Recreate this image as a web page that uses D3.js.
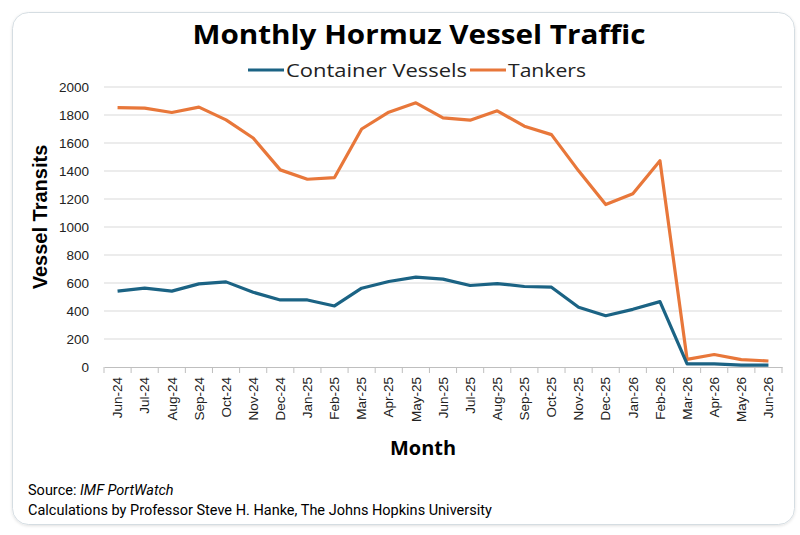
<!DOCTYPE html>
<html>
<head>
<meta charset="utf-8">
<script src="https://cdn.jsdelivr.net/npm/d3@7"></script>
<style>
  body { margin: 0; background: #fff; }
  svg { display: block; }
</style>
</head>
<body>
<div id="chart"></div>
<script>
'use strict'

// month labels on the x axis
var months = ["Jun-24","Jul-24","Aug-24","Sep-24","Oct-24","Nov-24","Dec-24",
	"Jan-25","Feb-25","Mar-25","Apr-25","May-25","Jun-25","Jul-25","Aug-25",
	"Sep-25","Oct-25","Nov-25","Dec-25","Jan-26","Feb-26","Mar-26","Apr-26",
	"May-26","Jun-26"]

var containerVessels = [542,563,542,594,608,534,479,479,436,563,611,642,628,
	582,596,575,570,427,366,412,467,22,22,14,14]

var tankers = [1853,1849,1818,1856,1765,1636,1408,1341,1353,1700,1820,1887,1780,
	1763,1830,1720,1660,1401,1160,1238,1473,55,89,53,43]

var yTicks = [0,200,400,600,800,1000,1200,1400,1600,1800,2000]

var seriesNames = ["Container Vessels", "Tankers"]
var seriesColors = ["#1b6384", "#e8773a"]

var W = 800, H = 535
var margins = {top : 87, bottom : 168, left : 104, right : 18}
var width = W - margins.left - margins.right
var height = H - margins.top - margins.bottom

var svg = d3.select("#chart").append("svg")
	.attr("width", W)
	.attr("height", H)

// card with rounded corners
var defs = svg.append("defs")
var f = defs.append("filter").attr("id", "shadow").attr("x", "-5%").attr("y", "-5%").attr("width", "110%").attr("height", "110%")
f.append("feDropShadow").attr("dx", 0).attr("dy", 1).attr("stdDeviation", 1.5).attr("flood-color", "#000").attr("flood-opacity", 0.12)

svg.append("rect")
	.attr("x", 12.5).attr("y", 12.5)
	.attr("width", 782).attr("height", 512)
	.attr("rx", 16)
	.attr("fill", "#fff")
	.attr("stroke", "#d5dde2")
	.attr("filter", "url(#shadow)")

var g = svg.append("g").attr("transform", "translate(" + margins.left + "," + margins.top + ")")

var x = d3.scaleBand()
	.domain(months)
	.range([0, width])

var y = d3.scaleLinear()
	.domain([0, 2000])
	.range([height, 0])

// gridlines
g.append("g")
	.selectAll("line")
	.data(yTicks.slice(1))
	.enter().append("line")
	.attr("x1", 0)
	.attr("x2", width)
	.attr("y1", function(d){ return y(d) })
	.attr("y2", function(d){ return y(d) })
	.attr("stroke", "#d9d9d9")
	.attr("stroke-width", 1)

// y axis labels
var ya = g.append("g")
	.call(d3.axisLeft(y).tickValues(yTicks).tickFormat(d3.format("d")).tickSize(0).tickPadding(15))
ya.select(".domain").remove()
ya.selectAll("text")
	.attr("font-family", "Liberation Sans, Arial, sans-serif")
	.attr("font-size", "13.5px")
	.attr("fill", "#222")

// x axis
var xa = g.append("g")
	.attr("transform", "translate(0," + height + ")")
	.call(d3.axisBottom(x).tickSize(0).tickPadding(0))
xa.select(".domain").attr("stroke", "#bfbfbf")
xa.selectAll(".tick text")
	.attr("font-family", "Liberation Sans, Arial, sans-serif")
	.attr("font-size", "13.5px")
	.attr("fill", "#222")
	.attr("text-anchor", "end")
	.attr("transform", "rotate(-90)")
	.attr("x", -10)
	.attr("y", 0)
	.attr("dy", "0.35em")

// ticks between categories
var bounds = months.map(function(m){ return x(m) }).concat([x.range()[1]])
xa.selectAll(".sep")
	.data(bounds)
	.enter().append("line")
	.attr("class", "sep")
	.attr("x1", function(d){ return d })
	.attr("x2", function(d){ return d })
	.attr("y1", 0)
	.attr("y2", 6)
	.attr("stroke", "#bfbfbf")

// lines
var line = d3.line()
	.x(function(d, i){ return x(months[i]) + x.bandwidth() / 2 })
	.y(function(d){ return y(d) })

g.append("path")
	.datum(tankers)
	.attr("d", line)
	.attr("fill", "none")
	.attr("stroke", seriesColors[1])
	.attr("stroke-width", 3.2)
	.attr("stroke-linejoin", "round")

g.append("path")
	.datum(containerVessels)
	.attr("d", line)
	.attr("fill", "none")
	.attr("stroke", seriesColors[0])
	.attr("stroke-width", 3.2)
	.attr("stroke-linejoin", "round")

// title
svg.append("text")
	.attr("x", 419)
	.attr("y", 44)
	.attr("text-anchor", "middle")
	.attr("font-family", "Open Sans, sans-serif")
	.attr("font-weight", "bold")
	.attr("font-size", "27px")
	.attr("textLength", 453)
	.attr("lengthAdjust", "spacingAndGlyphs")
	.attr("fill", "#000")
	.text("Monthly Hormuz Vessel Traffic")

// legend
var legend = svg.append("g").attr("transform", "translate(248,77)")
var lx = [0, 222]
var lw = [181, 78]
seriesNames.forEach(function(name, i){
	var lg = legend.append("g").attr("transform", "translate(" + lx[i] + ",0)")
	lg.append("line")
		.attr("x1", 0).attr("x2", 36)
		.attr("y1", -7).attr("y2", -7)
		.attr("stroke", seriesColors[i])
		.attr("stroke-width", 3.2)
	lg.append("text")
		.attr("x", 38)
		.attr("y", 0)
		.attr("font-family", "Open Sans, sans-serif")
		.attr("font-size", "18.5px")
		.attr("textLength", lw[i])
		.attr("lengthAdjust", "spacingAndGlyphs")
		.attr("fill", "#222")
		.text(name)
})

// axis titles
svg.append("text")
	.attr("transform", "translate(47,217) rotate(-90)")
	.attr("text-anchor", "middle")
	.attr("font-family", "Liberation Sans, Arial, sans-serif")
	.attr("font-weight", "bold")
	.attr("font-size", "20px")
	.attr("fill", "#000")
	.text("Vessel Transits")

svg.append("text")
	.attr("x", 423)
	.attr("y", 455)
	.attr("text-anchor", "middle")
	.attr("font-family", "Open Sans, sans-serif")
	.attr("font-weight", "bold")
	.attr("font-size", "20px")
	.attr("textLength", 66)
	.attr("lengthAdjust", "spacingAndGlyphs")
	.attr("fill", "#000")
	.text("Month")

// footer
var src = svg.append("text")
	.attr("x", 28)
	.attr("y", 495)
	.attr("font-family", "Roboto, sans-serif")
	.attr("font-size", "14.5px")
	.attr("fill", "#000")
src.append("tspan").text("Source: ")
src.append("tspan").attr("font-style", "italic").text("IMF PortWatch")

svg.append("text")
	.attr("x", 28)
	.attr("y", 515)
	.attr("font-family", "Roboto, sans-serif")
	.attr("font-size", "14.5px")
	.attr("fill", "#000")
	.text("Calculations by Professor Steve H. Hanke, The Johns Hopkins University")
</script>
</body>
</html>
